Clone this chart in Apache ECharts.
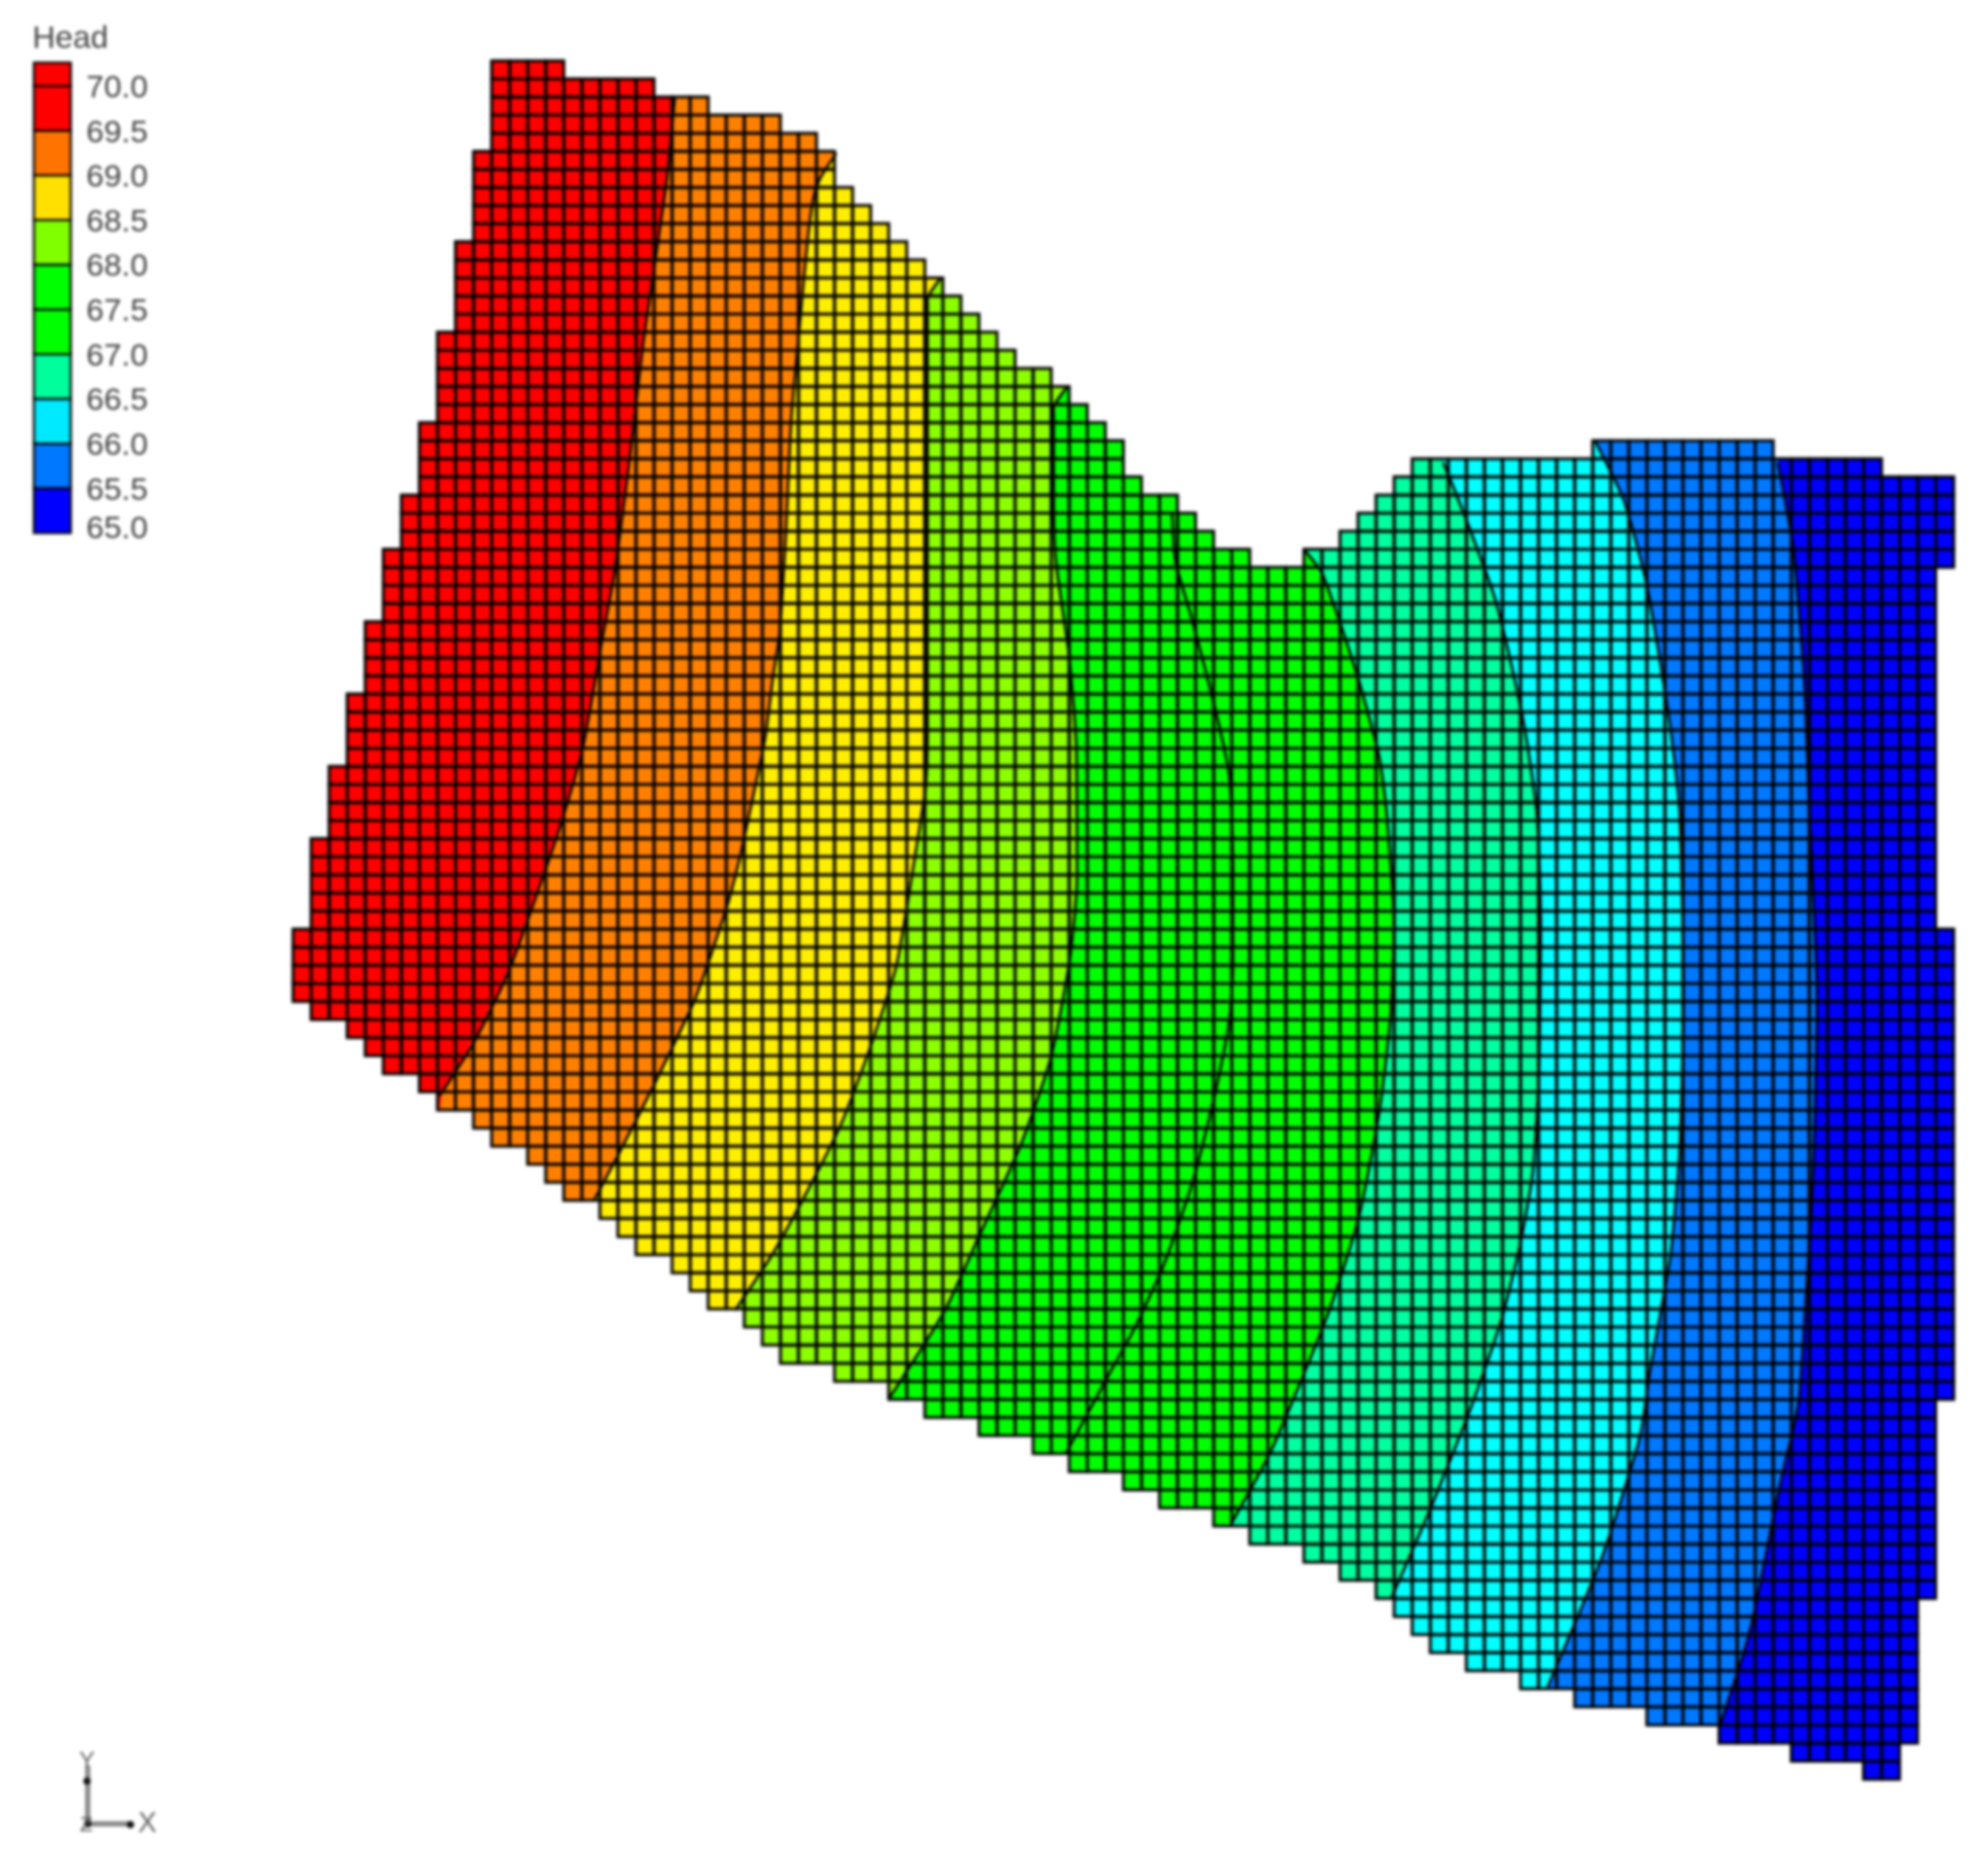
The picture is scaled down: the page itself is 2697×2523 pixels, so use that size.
<!DOCTYPE html>
<html><head><meta charset="utf-8">
<style>html,body{margin:0;padding:0;background:#fff}#main{width:2697px;height:2523px;filter:blur(1.9px)}</style>
<script src="https://cdn.jsdelivr.net/npm/echarts@6/dist/echarts.min.js"></script>
</head><body><div id="main"></div>
<script>
// Model grid: first and past-last active row of every column
const columnTop = [48,43,39,35,31,27,24,20,15,10,5,
  0,0,0,0, 1,1,1,1,1, 2,2,2, 3,3,3,3, 4,4, 5, 7,8,9,10,11,12,13,14,15,16, 17,17, 18,19,20,21, 23, 24,24, 25,26, 27,27, 28,28,28, 27,27, 26,25,24,23,
  22,22,22,22,22,22,22,22,22,22, 21,21,21,21,21,21,21,21,21,21, 22,22,22,22,22,22, 23,23,23,23];
const columnBottom = [52, 53,53, 54, 55, 56,56, 57, 58,58, 59, 60,60, 61, 62, 63,63, 64, 65, 66,66, 67, 68, 69,69, 70, 71, 72,72,72,
  73,73,73, 74,74, 75,75,75, 76,76,76, 77,77, 78,78,78, 79,79, 80,80,80, 81,81, 82,82,82, 83,83, 84,84, 85, 86, 87, 88,88, 89,89,89, 90,90,90,
  91,91,91,91, 92,92,92,92, 93,93,93,93, 94,94,94,94, 95,95, 93, 85, 74];
const inactiveCells = [[91, 28, 48]];   // column, first row, past-last row

// Contour lines as [column, row] points, west to east
const contour69 = [[21.15,2],[20.73,6.37],[20.11,10.74],[19.38,15.74],[18.65,21.99],[17.82,28.2],[17.09,32.2],[16.05,38],[14.9,42],[13.55,45.95],[11.88,50.5],[10,54.3],[8.13,57.2]];
const contour685 = [[30.1,5.1],[29.2,6.5],[28.85,7.5],[28.5,10],[28.02,15.1],[27.6,19.9],[27.3,26.15],[26.95,31.7],[26.6,34],[26.15,37.45],[25.2,42],[24.69,44.32],[23.96,47],[22.3,51.8],[20.1,56.4],[18.95,58.67],[17.75,60.98],[16.67,63]];
const contour68 = [[35.9,12],[35.15,13.2],[35.15,25],[35.15,37.45],[35.05,40.16],[34.85,41.5],[34.4,44.32],[33.44,49.94],[31.98,54.53],[30.41,58.67],[28.78,61.94],[26.6,65.9],[24.49,69.08]];
const contour675 = [[42.87,18.06],[42.14,19.2],[42.14,23.4],[42.24,27.5],[42.97,32.7],[43.39,37.95],[43.43,45.15],[43.02,49.74],[41.97,55.15],[40.31,59.94],[38.02,64.94],[36.07,69.16],[33.05,73.9]];
const contour67 = [[48.7,25.04],[48.9,27.75],[49.74,30.66],[51.1,35.9],[51.87,39.53],[52.07,44.74],[52.07,49.94],[51.87,53.07],[51.14,56.82],[49.89,61.81],[48.22,66.6],[46.6,70.1],[45.4,72.25],[42.8,77]];
const contour665 = [[56.09,27.12],[57.03,28.37],[58.9,33.8],[60.15,38.37],[60.58,41.53],[60.99,47.78],[60.79,52.98],[60.16,58.19],[59.02,64.02],[57.35,69.23],[54.2,76.8],[51.9,81]];
const contour66 = [[63.72,22.2],[64.97,25.3],[66.64,29.9],[68.09,36.15],[68.9,41.53],[69.12,47.78],[69.01,56.11],[68.7,61.31],[67.97,65.48],[66.93,69.64],[65.29,74.35],[62.95,80.18],[60.85,84.97]];
const contour655 = [[72.15,21.05],[73.72,24.28],[74.97,28.86],[76.2,36.15],[76.82,41.53],[77.03,51.94],[76.82,60.27],[76.3,66.1],[75.68,69.64],[75.16,72.5],[74.63,76],[72.53,82.68],[69.5,89.9]];
const contour65 = [[82.25,22.2],[83.09,26.8],[83.71,34.07],[84,41.53],[84.42,51.94],[84.21,61.31],[83.8,68.6],[83.4,74.18],[82.33,78.93],[80.7,86.84],[79.06,92]];
const contours = [contour69,contour685,contour68,contour675,contour67,contour665,contour66,contour655,contour65];
const bandColors = ['#ff0000','#ff8000','#ffee00','#8cff00','#00ff00','#00ff00','#00ffa0','#00ffff','#0078ff','#0000ff'];

// Legend
const legendTitle = 'Head';
const legendLabels = [65,65.5,66,66.5,67,67.5,68,68.5,69,69.5,70];
const legendBreaks = [65,65.5,66,66.5,67,67.5,68,68.5,69,69.5,70,70.26];
const legendColors = ['#0000ff','#0078ff','#00eaff','#00ff9c','#00ff00','#00ff00','#80ff00','#ffe000','#ff7400','#ff0000','#ff0000'];

const cells = [];
columnTop.forEach((top, c) => {
  for (let r = top; r < columnBottom[c]; r++) {
    if (!inactiveCells.some(g => g[0] === c && r >= g[1] && r < g[2])) cells.push([c, r]);
  }
});
function contourAt(line, y) {
  if (y <= line[0][1]) return line[0][0];
  for (let i = 1; i < line.length; i++) {
    if (y <= line[i][1]) {
      const t = (y - line[i-1][1]) / (line[i][1] - line[i-1][1]);
      return line[i-1][0] + t * (line[i][0] - line[i-1][0]);
    }
  }
  return line[line.length-1][0];
}
function renderFill(params, api) {
  const c = api.value(0), r = api.value(1), children = [];
  const clamp = v => Math.max(c, Math.min(c + 1, v));
  bandColors.forEach((color, k) => {
    const lt = k === 0 ? c : clamp(contourAt(contours[k-1], r));
    const lb = k === 0 ? c : clamp(contourAt(contours[k-1], r + 1));
    const rt = k === bandColors.length-1 ? c+1 : clamp(contourAt(contours[k], r));
    const rb = k === bandColors.length-1 ? c+1 : clamp(contourAt(contours[k], r + 1));
    if (rt - lt <= 0 && rb - lb <= 0) return;
    children.push({type:'polygon', shape:{points:[[lt,r],[rt,r],[rb,r+1],[lb,r+1]].map(p => api.coord(p))}, style:{fill:color, stroke:null}});
  });
  return {type:'group', children};
}
function renderOutline(params, api) {
  const a = api.coord([api.value(0), api.value(1)]), b = api.coord([api.value(0)+1, api.value(1)+1]);
  return {type:'rect', shape:{x:a[0], y:a[1], width:b[0]-a[0], height:b[1]-a[1]}, style:{fill:null, stroke:'#000', lineWidth:4}};
}
function renderLegend(params, api) {
  const a = api.coord([0, api.value(1)]), b = api.coord([1, api.value(0)]);
  return {type:'rect', shape:{x:a[0], y:a[1], width:b[0]-a[0], height:b[1]-a[1]},
    style:{fill:legendColors[api.value(2)], stroke:'#000', lineWidth:3}};
}
const legendData = legendColors.map((_, i) => [legendBreaks[i], legendBreaks[i+1], i]);

const labelFont = {fontFamily:'Liberation Sans', fontSize:43, color:'#444'};
const chart = echarts.init(document.getElementById('main'), null, {renderer:'canvas'});
chart.setOption({
  animation:false,
  backgroundColor:'#fff',
  title:{text:legendTitle, left:39, top:27, textStyle:{fontFamily:'Liberation Sans', fontSize:43, fontWeight:'normal', color:'#444'}},
  grid:[
    {left:397.5, top:82.5, width:2253, height:2331},
    {left:46, top:85, width:50, height:638}
  ],
  xAxis:[
    {type:'value', min:0, max:92, show:false, gridIndex:0},
    {type:'value', min:0, max:1, show:false, gridIndex:1}
  ],
  yAxis:[
    {type:'value', min:0, max:95, inverse:true, show:false, gridIndex:0},
    {type:'value', min:65, max:70.26, gridIndex:1, position:'right', splitLine:{show:false},
      axisLine:{show:false}, axisTick:{show:false},
      axisLabel:{show:true, margin:21, customValues:legendLabels, ...labelFont,
        formatter:v => v === 65 ? '{last|65.0}' : '{n|' + v.toFixed(1) + '}',
        rich:{n:{...labelFont, padding:[7,0,0,0]}, last:{...labelFont, padding:[0,0,10,0]}}}}
  ],
  series:[
    {type:'custom', name:'Head bands', xAxisIndex:0, yAxisIndex:0, data:cells, renderItem:renderFill, silent:true, z:1, progressive:0},
    {type:'custom', name:'Grid cells', xAxisIndex:0, yAxisIndex:0, data:cells, renderItem:renderOutline, silent:true, z:2, progressive:0},
    ...contours.map(line => ({type:'line', xAxisIndex:0, yAxisIndex:0, data:line, showSymbol:false, smooth:0.2, silent:true, z:3,
      lineStyle:{color:'#000', width:3.5}})),
    {type:'custom', name:'Legend', xAxisIndex:1, yAxisIndex:1, data:legendData, renderItem:renderLegend, silent:true, z:4}
  ],
  graphic:[
    {type:'line', shape:{x1:119, y1:2395, x2:119, y2:2474}, style:{stroke:'#888', lineWidth:7}},
    {type:'line', shape:{x1:119, y1:2474, x2:178, y2:2474}, style:{stroke:'#888', lineWidth:7}},
    {type:'circle', shape:{cx:118, cy:2416, r:5}, style:{fill:'#111'}},
    {type:'circle', shape:{cx:119, cy:2474, r:5}, style:{fill:'#111'}},
    {type:'circle', shape:{cx:177, cy:2475, r:5}, style:{fill:'#111'}},
    {type:'text', style:{x:118, y:2389, text:'Y', align:'center', verticalAlign:'middle', fill:'#666', font:'32px "Liberation Sans"'}},
    {type:'text', style:{x:117, y:2476, text:'Z', align:'center', verticalAlign:'middle', fill:'#555', font:'28px "Liberation Sans"'}},
    {type:'text', style:{x:200, y:2475, text:'X', align:'center', verticalAlign:'middle', fill:'#666', font:'38px "Liberation Sans"'}}
  ]
});
</script></body></html>
